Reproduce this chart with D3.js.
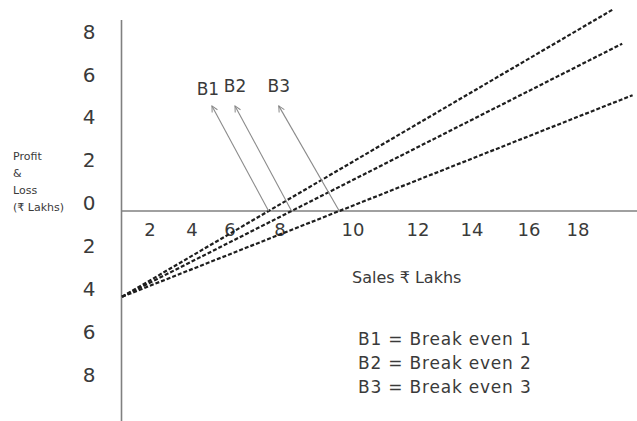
<meta charset="utf-8">
<title>Break Even Chart</title>
<style>
  body { margin: 0; background: #fff; }
  text { font-family: 'DejaVu Sans', 'Noto Sans', sans-serif; fill: #3a3a3a; }
</style>
<body>
<script src="https://cdn.jsdelivr.net/npm/d3@7"></script>
<script>
var widthSvg = 637;
var heightSvg = 421;

// data ==========================================================
var xTicks = [2, 4, 6, 8, 10, 12, 14, 16, 18];
var yTicks = [8, 6, 4, 2, 0, -2, -4, -6, -8];
var lineNames = ['B1', 'B2', 'B3'];
var fixedLoss = -4;                       // all lines start at sales 0
var lineEndSales = [19.35, 19.7, 20.1];
var lineEndProfit = [9.4, 7.8, 5.4];
var arrowTipSales = [5.05, 6.2, 7.95];    // where the B labels sit
var arrowTipProfit = [4.9, 4.9, 4.9];
var legend = ['B1 = Break even 1', 'B2 = Break even 2', 'B3 = Break even 3'];

// scales (hand drawn axis, so x spacing is uneven) ===============
var x = d3.scaleLinear()
  .domain([0, 2, 4, 6, 8, 10, 12, 14, 16, 18, 20])
  .range([122, 150, 192, 230, 280, 353, 418, 472, 529, 578, 630]);
var y = d3.scaleLinear()
  .domain([-8, 8])
  .range([382.6, 39.4]);

var svg = d3.select('body').append('svg')
  .attr('width', widthSvg)
  .attr('height', heightSvg);

svg.append('defs').append('marker')
  .attr('id', 'head')
  .attr('viewBox', '0 0 8 8')
  .attr('refX', 7).attr('refY', 4)
  .attr('markerWidth', 8).attr('markerHeight', 8)
  .attr('markerUnits', 'userSpaceOnUse')
  .attr('orient', 'auto')
  .append('path')
    .attr('d', 'M1,1 L7,4 L1,7')
    .style('fill', 'none')
    .style('stroke', '#888')
    .style('stroke-width', 1);

// axes ===========================================================
svg.append('line')
  .attr('x1', x(0) - 0.5).attr('x2', x(0) - 0.5)
  .attr('y1', 20).attr('y2', heightSvg)
  .style('stroke', '#808080').style('stroke-width', 1.6);
svg.append('line')
  .attr('x1', x(0)).attr('x2', widthSvg)
  .attr('y1', y(0)).attr('y2', y(0))
  .style('stroke', '#808080').style('stroke-width', 1.6);

svg.selectAll('.ytick').data(yTicks).enter().append('text')
  .attr('class', 'ytick')
  .attr('x', x(0) - 33)
  .attr('y', function(d){ return y(d) - 8; })
  .attr('dy', '0.36em')
  .style('font-size', 20)
  .style('text-anchor', 'middle')
  .text(function(d){ return Math.abs(d); });

svg.selectAll('.xtick').data(xTicks).enter().append('text')
  .attr('class', 'xtick')
  .attr('x', function(d){ return x(d); })
  .attr('y', y(0) + 19)
  .attr('dy', '0.36em')
  .style('font-size', 18)
  .style('text-anchor', 'middle')
  .text(function(d){ return d; });

var ylab = ['Profit', '&', 'Loss', '(₹ Lakhs)'];
svg.selectAll('.ylab').data(ylab).enter().append('text')
  .attr('class', 'ylab')
  .attr('x', 13)
  .attr('y', function(d, i){ return 156 + i * 17; })
  .attr('dy', '0.36em')
  .style('font-size', 11)
  .text(function(d){ return d; });

svg.append('text')
  .attr('x', 352)
  .attr('y', 277)
  .attr('dy', '0.36em')
  .style('font-size', 16)
  .text('Sales ₹ Lakhs');

// break even lines ================================================
var line = d3.line()
  .x(function(d){ return x(d[0]); })
  .y(function(d){ return y(d[1]); });

lineNames.forEach(function(name, i){
  var pts = [[0, fixedLoss], [lineEndSales[i], lineEndProfit[i]]];
  svg.append('path')
    .attr('d', line(pts))
    .style('fill', 'none')
    .style('stroke', '#1e1e1e')
    .style('stroke-width', 2.2)
    .style('stroke-dasharray', '4,2');

  // where the line meets the sales axis (in pixels)
  var x0 = x(0), y0 = y(fixedLoss);
  var x1 = x(lineEndSales[i]), y1 = y(lineEndProfit[i]);
  var cx = x0 + (y(0) - y0) / (y1 - y0) * (x1 - x0);

  svg.append('line')
    .attr('x1', cx).attr('y1', y(0))
    .attr('x2', x(arrowTipSales[i])).attr('y2', y(arrowTipProfit[i]))
    .style('stroke', '#8a8a8a')
    .style('stroke-width', 1.1)
    .attr('marker-end', 'url(#head)');

  svg.append('text')
    .attr('x', x(arrowTipSales[i]) - (i == 0 ? 4 : 0))
    .attr('y', y(arrowTipProfit[i]) - 20 + (i == 0 ? 3 : 0))
    .attr('dy', '0.36em')
    .style('font-size', 17)
    .style('text-anchor', 'middle')
    .text(name);
});

// legend ===========================================================
svg.selectAll('.leg').data(legend).enter().append('text')
  .attr('class', 'leg')
  .attr('x', 358)
  .attr('y', function(d, i){ return 339 + i * 24; })
  .attr('dy', '0.36em')
  .style('font-size', 17)
  .style('letter-spacing', '0.8px')
  .text(function(d){ return d; });
</script>
